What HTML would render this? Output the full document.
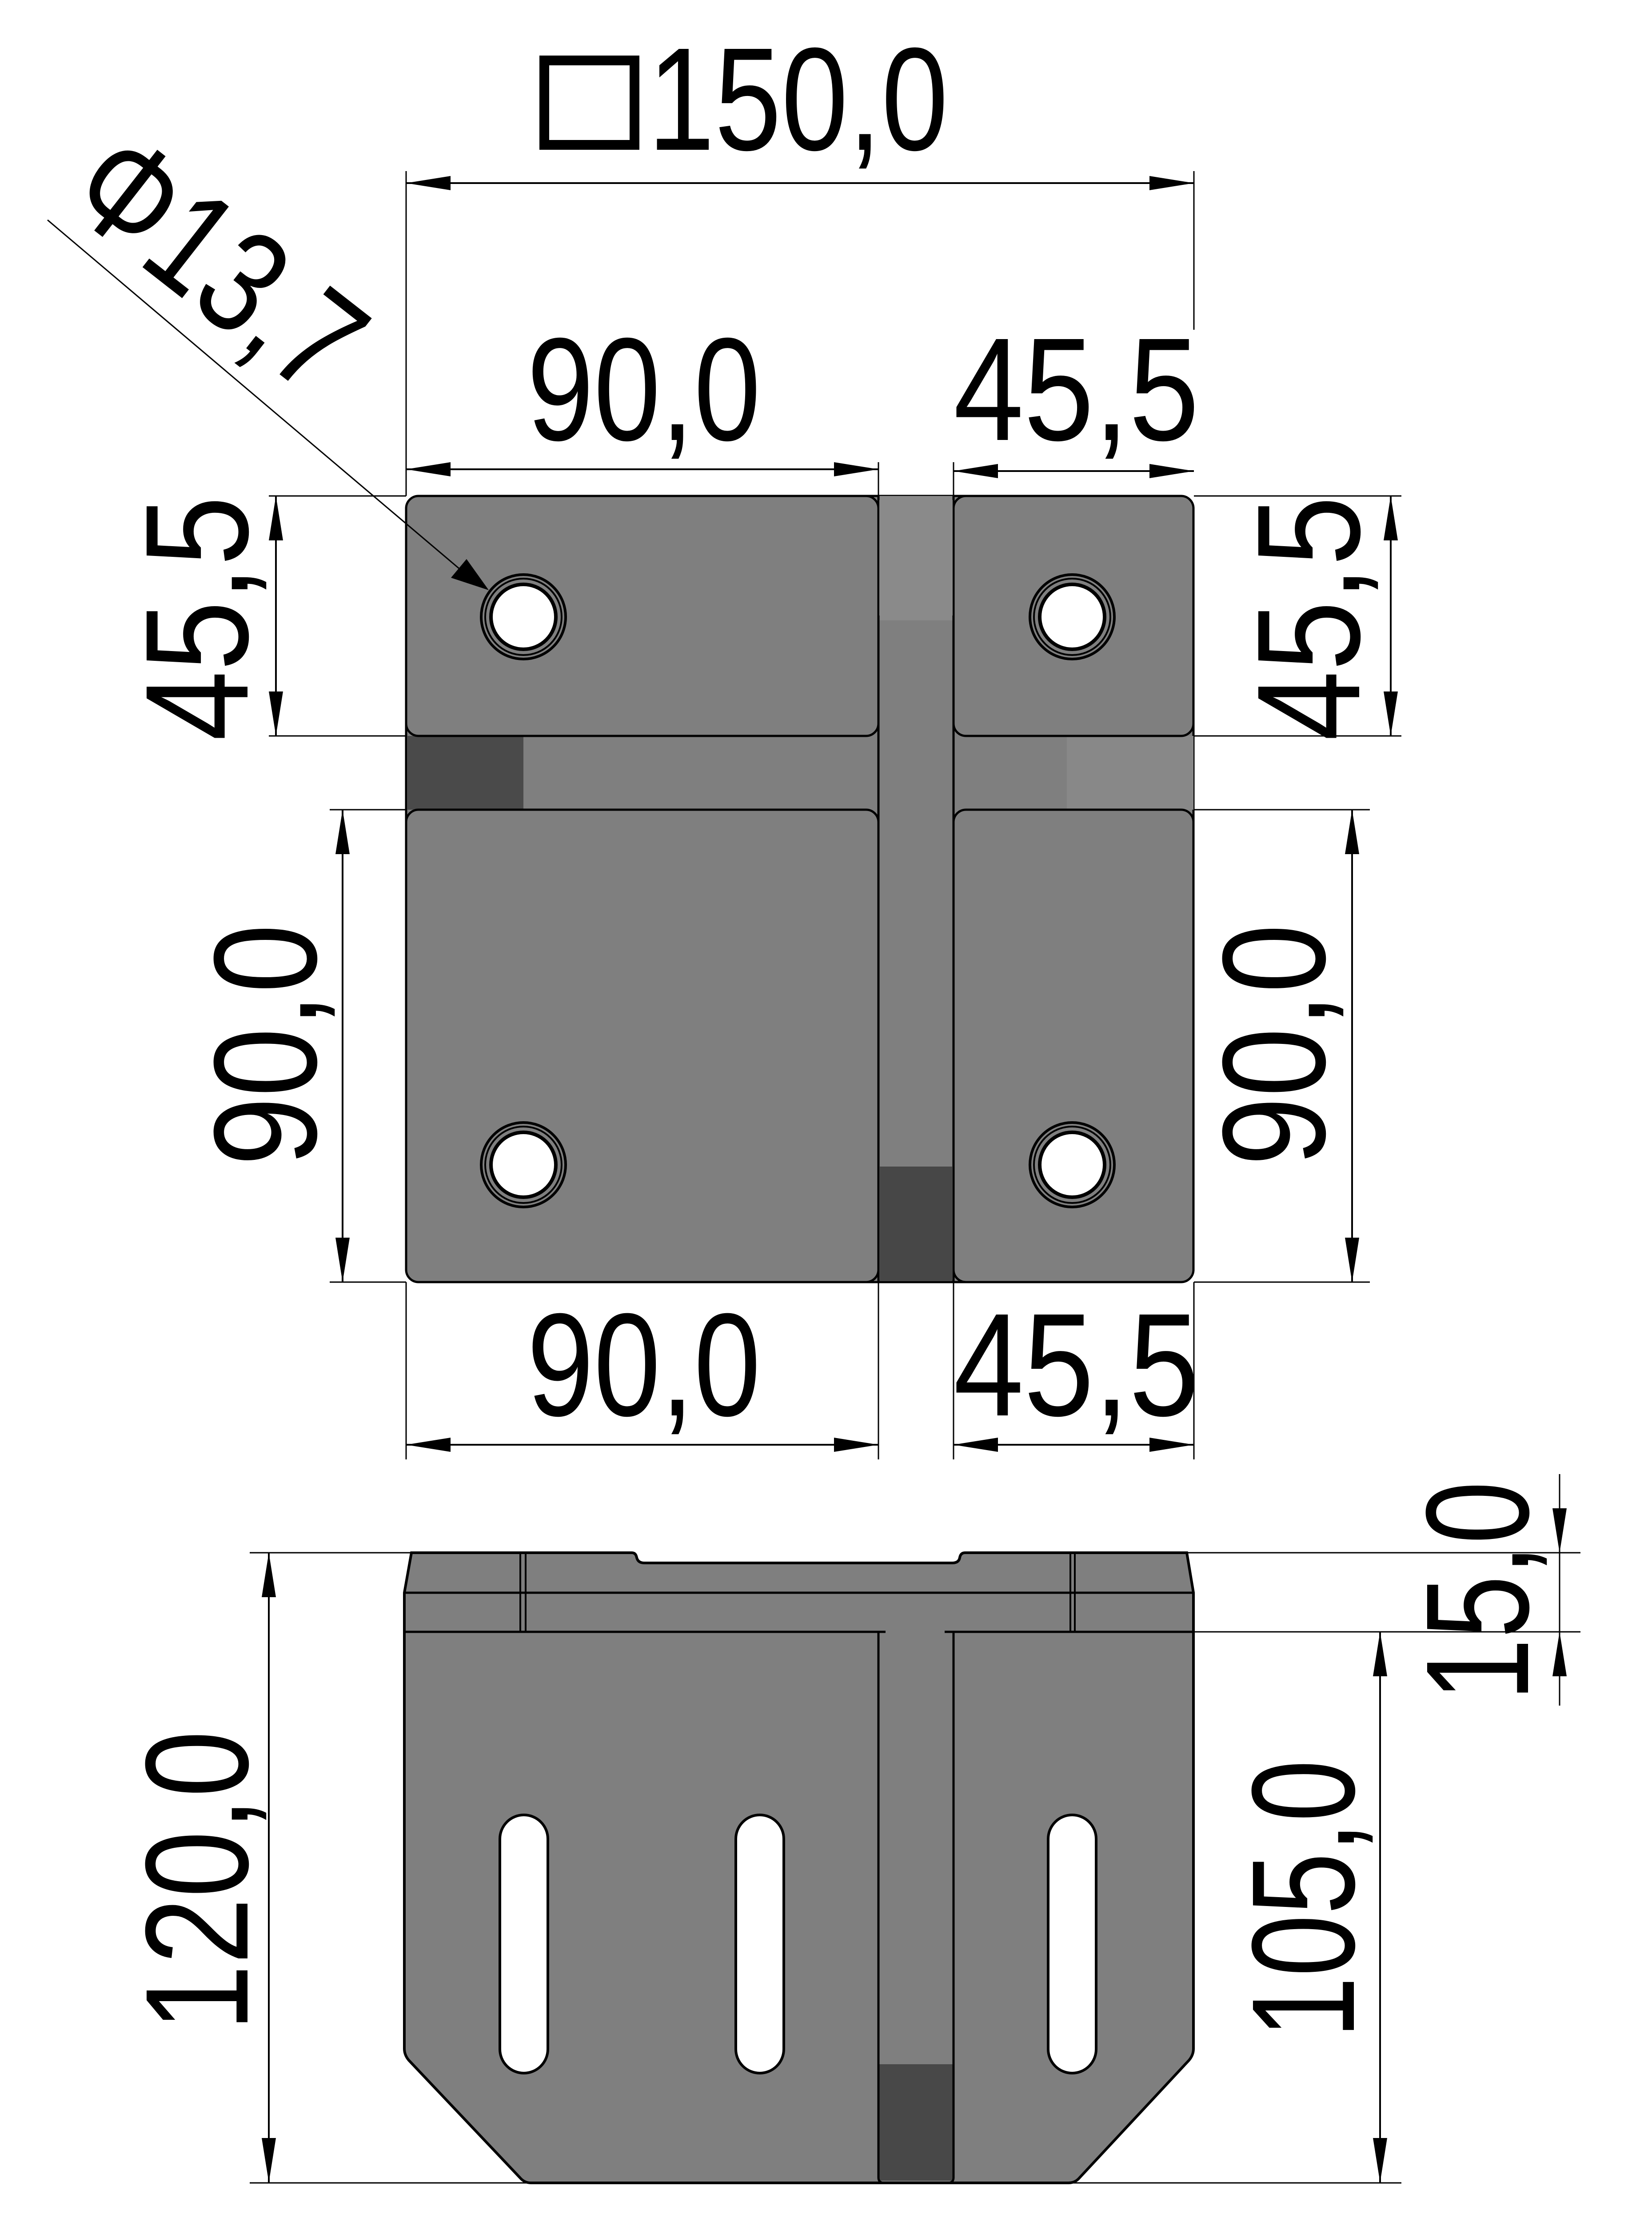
<!DOCTYPE html>
<html><head><meta charset="utf-8"><style>
html,body{margin:0;padding:0;background:#fff;width:3718px;height:5174px;overflow:hidden}
svg{display:block}
text{font-family:"Liberation Sans","DejaVu Sans",sans-serif;fill:#000}
</style></head><body>
<svg width="3718" height="5174" viewBox="0 0 3718 5174" xmlns="http://www.w3.org/2000/svg">
<defs>
<marker id="a" viewBox="0 0 100 32" refX="100" refY="16" markerWidth="100" markerHeight="32" markerUnits="userSpaceOnUse" orient="auto-start-reverse"><path d="M0,0L100,16L0,32Z" fill="#000"/></marker>
</defs>
<rect width="3718" height="5174" fill="#fff"/>

<!-- ===== TOP VIEW ===== -->
<rect x="914" y="1116" width="1772" height="1769" rx="32" fill="#7f7f7f" stroke="#000" stroke-width="5"/>
<rect x="1977" y="1116" width="169" height="280" fill="#8a8a8a"/>
<rect x="2401" y="1656" width="285" height="166" fill="#888"/>
<rect x="916" y="1656" width="262" height="166" fill="#4a4a4a"/>
<rect x="1977" y="2625" width="169" height="258" fill="#474747"/>
<rect x="914" y="1116" width="1063" height="540" rx="28" fill="#7f7f7f" stroke="#000" stroke-width="5"/>
<rect x="2146" y="1116" width="540" height="540" rx="28" fill="#7f7f7f" stroke="#000" stroke-width="5"/>
<rect x="914" y="1822" width="1063" height="1063" rx="28" fill="#7f7f7f" stroke="#000" stroke-width="5"/>
<rect x="2146" y="1822" width="540" height="1063" rx="28" fill="#7f7f7f" stroke="#000" stroke-width="5"/>
<path d="M1977,1116V2885M2146,1116V2885" stroke="#000" stroke-width="5"/>
<rect x="1979" y="1125" width="165" height="260" fill="#8a8a8a"/>
<rect x="1979" y="2625" width="165" height="255" fill="#474747"/>
<g stroke="#000" fill="none">
<g transform="translate(1178,1388)"><circle r="95" stroke-width="6"/><circle r="86" stroke-width="4"/><circle r="73" fill="#fff" stroke-width="8"/></g>
<g transform="translate(2413,1388)"><circle r="95" stroke-width="6"/><circle r="86" stroke-width="4"/><circle r="73" fill="#fff" stroke-width="8"/></g>
<g transform="translate(1178,2621)"><circle r="95" stroke-width="6"/><circle r="86" stroke-width="4"/><circle r="73" fill="#fff" stroke-width="8"/></g>
<g transform="translate(2413,2621)"><circle r="95" stroke-width="6"/><circle r="86" stroke-width="4"/><circle r="73" fill="#fff" stroke-width="8"/></g>
</g>

<g stroke="#000" stroke-width="3" fill="none">
<path d="M914,385V1116M2687,385V742"/>
<path d="M605,1116H914M605,1656H914M2687,1116H3154M2687,1656H3154"/>
<path d="M742,1822H914M742,2885H914M2687,1822H3083M2687,2885H3083"/>
<path d="M914,2885V3284M1977,2885V3284M2146,2885V3284M2687,2885V3284"/>
<path d="M1977,1040V1116M2146,1040V1116"/>
</g>
<g stroke="#000" stroke-width="4" fill="none" marker-start="url(#a)" marker-end="url(#a)">
<path d="M914,412H2687"/>
<path d="M914,1056H1977"/>
<path d="M2146,1060H2687"/>
<path d="M621,1116V1656"/>
<path d="M3130,1116V1656"/>
<path d="M771,1822V2885"/>
<path d="M3043,1822V2885"/>
<path d="M914,3251H1977"/>
<path d="M2146,3251H2687"/>
</g>
<rect x="1225" y="136" width="203" height="190" fill="none" stroke="#000" stroke-width="22"/>
<text x="1458" y="337" font-size="330" textLength="676" lengthAdjust="spacingAndGlyphs">150,0</text>
<text x="1186" y="990" font-size="330" textLength="526" lengthAdjust="spacingAndGlyphs">90,0</text>
<text x="2146" y="990" font-size="330" textLength="553" lengthAdjust="spacingAndGlyphs">45,5</text>
<text x="1186" y="3185" font-size="330" textLength="526" lengthAdjust="spacingAndGlyphs">90,0</text>
<text x="2146" y="3185" font-size="330" textLength="553" lengthAdjust="spacingAndGlyphs">45,5</text>
<text transform="translate(557,1667) rotate(-90)" font-size="330" textLength="551" lengthAdjust="spacingAndGlyphs">45,5</text>
<text transform="translate(3059,1667) rotate(-90)" font-size="330" textLength="551" lengthAdjust="spacingAndGlyphs">45,5</text>
<text transform="translate(711,2624) rotate(-90)" font-size="330" textLength="545" lengthAdjust="spacingAndGlyphs">90,0</text>
<text transform="translate(2981,2624) rotate(-90)" font-size="330" textLength="545" lengthAdjust="spacingAndGlyphs">90,0</text>
<path d="M107,495L1040,1285" stroke="#000" stroke-width="3" fill="none"/>
<path d="M1100,1328L1015,1300L1050,1258Z" fill="#000"/>
<text transform="translate(140,460) rotate(38)" font-size="330" textLength="720" lengthAdjust="spacingAndGlyphs">Φ13,7</text>

<!-- ===== SIDE VIEW ===== -->
<path d="M926,3494H1422Q1431,3494 1433,3505Q1436,3517 1450,3517H2143Q2158,3517 2160,3505Q2162,3494 2172,3494H2671L2686,3584V4610Q2686,4624 2676,4636L2430,4900Q2420,4912 2405,4912H1195Q1180,4912 1170,4900L920,4636Q910,4624 910,4610V3584Z" fill="#7f7f7f" stroke="#000" stroke-width="6"/>
<path d="M910,3584H2686M910,3672H1993M2126,3672H2686" stroke="#000" stroke-width="5" fill="none"/>
<path d="M1171,3494V3672M1183,3494V3672M2409,3494V3672M2419,3494V3672" stroke="#000" stroke-width="4"/>
<rect x="1979" y="4645" width="165" height="262" fill="#484848"/>
<path d="M1977,3672V4900Q1977,4912 1990,4912H2133Q2146,4912 2146,4900V3672" stroke="#000" stroke-width="5" fill="none"/>
<g fill="#fff" stroke="#000" stroke-width="6">
<rect x="1125" y="4084" width="108" height="581" rx="54"/>
<rect x="1656" y="4084" width="108" height="581" rx="54"/>
<rect x="2359" y="4084" width="108" height="581" rx="54"/>
</g>
<g stroke="#000" stroke-width="3" fill="none">
<path d="M562,3494H926M2671,3494H3557"/>
<path d="M562,4912H3154"/>
<path d="M2146,3672H3557"/>
<path d="M3510,3317V3838"/>
</g>
<g stroke="#000" stroke-width="4" fill="none" marker-start="url(#a)" marker-end="url(#a)">
<path d="M605,3494V4911"/>
<path d="M3106,3672V4911"/>
</g>
<path d="M3494,3394L3510,3494L3526,3394Z" fill="#000"/>
<path d="M3494,3772L3510,3672L3526,3772Z" fill="#000"/>
<text transform="translate(557,4571) rotate(-90)" font-size="330" textLength="677" lengthAdjust="spacingAndGlyphs">120,0</text>
<text transform="translate(3047,4587) rotate(-90)" font-size="330" textLength="627" lengthAdjust="spacingAndGlyphs">105,0</text>
<text transform="translate(3439,3828) rotate(-90)" font-size="330" textLength="495" lengthAdjust="spacingAndGlyphs">15,0</text>
</svg>
</body></html>
